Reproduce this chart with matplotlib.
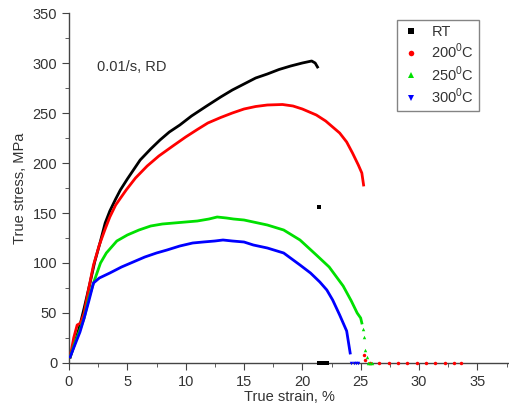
import numpy as np
import matplotlib
matplotlib.use('Agg')
import matplotlib.pyplot as plt
from matplotlib.ticker import MultipleLocator

plt.rcParams['font.family'] = ['Liberation Sans', 'DejaVu Sans']

# RT
rt_x = [0.1, 0.5, 0.9, 1.3, 1.8, 2.2, 2.7, 3.1, 3.5, 4.0, 4.4, 5.0, 6.1, 7.0, 7.8, 8.6,
        9.5, 10.5, 11.8, 13.0, 14.0, 15.0, 16.0, 17.0, 18.0, 19.0, 20.0, 20.8, 21.1, 21.3]
rt_y = [6, 20, 36, 55, 80, 101, 122, 140, 152, 164, 173, 184, 203, 214, 223, 231,
        238, 247, 257, 266, 273, 279, 285, 289, 293.5, 297, 300, 302, 300, 296]
rt_tail_x = [21.4, 21.4, 21.6, 21.8, 22.0, 22.1]
rt_tail_y = [156, 0, 0, 0, 0, 0]

# 200 C
t200_x = [0.1, 0.4, 0.7, 1.0, 1.3, 1.7, 2.1, 2.6, 3.1, 3.5, 4.0, 4.9, 5.7, 6.7, 7.7, 8.9,
          10.0, 11.0, 11.9, 13.0, 14.0, 15.0, 16.0, 17.0, 18.3, 19.2, 20.0, 21.2,
          22.0, 23.2, 23.8, 24.3, 24.8, 25.1, 25.25]
t200_y = [6, 25, 38, 40, 50, 75, 98, 118, 134, 146, 158, 173, 185, 197, 207, 217,
          226, 233.5, 240, 245.5, 250, 254, 256.5, 258, 258.5, 257, 254, 248,
          242, 230, 221, 210, 198, 190, 178]
t200_tail_x = [25.3, 25.35, 25.8, 26.6, 27.4, 28.2, 29.0, 29.8, 30.6, 31.4, 32.2, 33.0, 33.6]
t200_tail_y = [8, 3, 0, 0, 0, 0, 0, 0, 0, 0, 0, 0, 0]

# 250 C
t250_x = [0.1, 0.5, 0.9, 1.3, 1.7, 2.1, 2.4, 2.7, 3.2, 4.1, 5.0, 6.0, 7.0, 8.0, 9.0, 10.0,
          11.0, 12.0, 12.7, 13.5, 14.1, 15.0, 15.8, 17.0, 18.4, 19.8, 21.2, 22.3, 23.5,
          24.2, 24.7, 25.0, 25.1]
t250_y = [6, 20, 32, 45, 65, 80, 90, 100, 110, 122, 128, 133, 137, 139, 140, 141,
          142, 144, 146, 145, 144, 143, 141, 138, 133, 123, 108, 96, 77,
          62, 50, 45, 40]
t250_tail_x = [25.2, 25.25, 25.35, 25.5, 25.6, 25.8, 26.0]
t250_tail_y = [34, 26, 13, 6, 0, 0, 0]

# 300 C
t300_x = [0.1, 0.5, 0.94, 1.3, 1.7, 2.1, 2.6, 3.5, 4.5, 5.5, 6.5, 7.5, 8.4, 9.5, 10.6,
          11.5, 12.5, 13.2, 14.0, 15.0, 15.8, 17.0, 18.4, 19.8, 20.7, 21.5, 22.1, 22.6,
          23.2, 23.8, 24.1]
t300_y = [6, 18, 31, 45, 62, 80, 85, 90, 96, 101, 106, 110, 113, 117, 120,
          121, 122, 123, 122, 121, 118, 115, 110, 98, 90, 81, 73, 63,
          48, 32, 10]
t300_tail_x = [24.2, 24.4, 24.6, 24.8]
t300_tail_y = [0, 0, 0, 0]

series = [
    (rt_x, rt_y, rt_tail_x, rt_tail_y, 'black', 's', 'RT'),
    (t200_x, t200_y, t200_tail_x, t200_tail_y, 'red', 'o', r'200$^\mathregular{0}$C'),
    (t250_x, t250_y, t250_tail_x, t250_tail_y, '#00e000', '^', r'250$^\mathregular{0}$C'),
    (t300_x, t300_y, t300_tail_x, t300_tail_y, 'blue', 'v', r'300$^\mathregular{0}$C'),
]

fig = plt.figure(figsize=(5.10, 4.12), dpi=100)
ax = fig.add_axes([69/510, 1-363/412, 1-69/510, 350/412])

for xs, ys, tx, ty, c, m, lab in series:
    ax.plot(xs, ys, color=c, lw=2.0, zorder=3)
    ax.plot(tx, ty, color=c, lw=0, marker=m, ms=2.5, mew=0, zorder=3, clip_on=False)
    ax.plot([], [], color=c, lw=0, marker=m, ms=4, mew=0, label=lab)

ax.set_xlim(0, 37.8)
ax.set_ylim(0, 350)
ax.xaxis.set_major_locator(MultipleLocator(5))
ax.xaxis.set_minor_locator(MultipleLocator(2.5))
ax.yaxis.set_major_locator(MultipleLocator(50))
ax.yaxis.set_minor_locator(MultipleLocator(25))

for s in ['top', 'right']:
    ax.spines[s].set_visible(False)
for s in ['left', 'bottom']:
    ax.spines[s].set_color('#444444')
    ax.spines[s].set_linewidth(1.0)
ax.tick_params(which='major', direction='out', length=5, color='#444444',
               labelsize=10.5, labelcolor='#333333')
ax.tick_params(which='minor', direction='out', length=3, color='#444444')

ax.set_xlabel('True strain, %', fontsize=10.5, color='#333333', labelpad=1)
ax.set_ylabel('True stress, MPa', fontsize=10.5, color='#333333', labelpad=4)

ax.text(2.4, 296, '0.01/s, RD', fontsize=10.5, color='#333333', va='center', ha='left')

leg = ax.legend(loc='upper left', bbox_to_anchor=((397 - 69)/441, 1 - (20 - 13)/350),
                fontsize=10.5, frameon=True, fancybox=False, handletextpad=0.8,
                labelspacing=0.2, borderpad=0.35, handlelength=1.2, borderaxespad=0)
leg.get_frame().set_edgecolor('#666666')
leg.get_frame().set_linewidth(1.0)
for t in leg.get_texts():
    t.set_color('#333333')

fig.savefig('out.png', dpi=100)
